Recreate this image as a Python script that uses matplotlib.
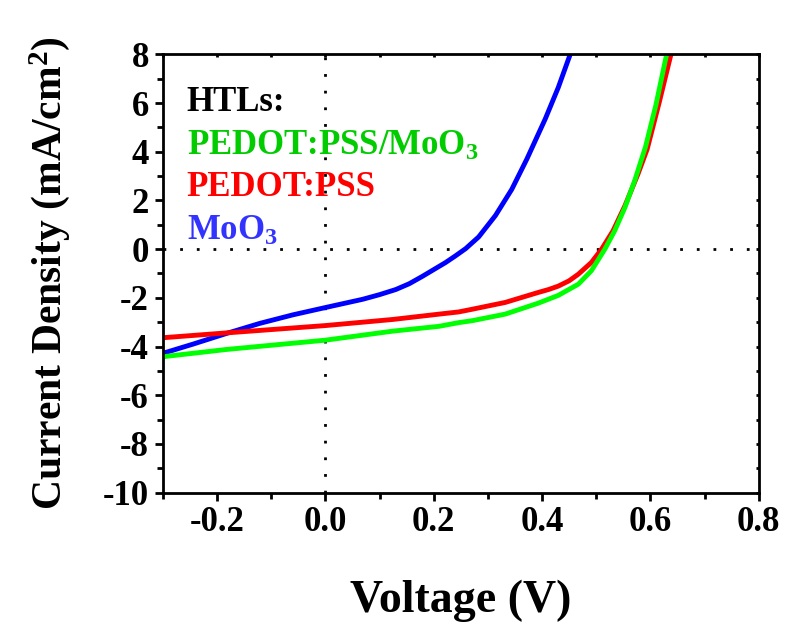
import matplotlib
matplotlib.use("Agg")
import matplotlib.pyplot as plt
from matplotlib.ticker import MultipleLocator

plt.rcParams['font.family'] = ['Liberation Serif', 'DejaVu Serif']
plt.rcParams['font.weight'] = 'bold'
plt.rcParams['mathtext.fontset'] = 'custom'
plt.rcParams['mathtext.rm'] = 'Liberation Serif:bold'
plt.rcParams['mathtext.it'] = 'Liberation Serif:bold'
plt.rcParams['mathtext.bf'] = 'Liberation Serif:bold'
plt.rcParams['axes.unicode_minus'] = False

# J-V curves
v_green = [-0.30, -0.182, 0.00, 0.124, 0.21, 0.246, 0.271, 0.332, 0.393, 0.43,
           0.467, 0.491, 0.516, 0.534, 0.553, 0.571, 0.591, 0.61, 0.63]
j_green = [-4.42, -4.12, -3.74, -3.37, -3.17, -3.02, -2.94, -2.67, -2.22, -1.90,
           -1.44, -0.89, 0.0, 0.75, 1.71, 2.81, 4.20, 5.90, 8.0]

v_red = [-0.30, -0.182, 0.00, 0.124, 0.21, 0.246, 0.271, 0.332, 0.393, 0.412, 0.43,
         0.45, 0.467, 0.491, 0.51, 0.531, 0.553, 0.577, 0.594, 0.616, 0.638]
j_red = [-3.64, -3.44, -3.14, -2.89, -2.67, -2.58, -2.47, -2.19, -1.78, -1.66, -1.52,
         -1.30, -1.03, -0.55, 0.0, 0.75, 1.78, 3.08, 4.10, 6.00, 8.0]

v_blue = [-0.30, -0.244, -0.182, -0.121, -0.06, 0.00, 0.069, 0.10, 0.13, 0.155, 0.179,
          0.222, 0.24, 0.259, 0.283, 0.314, 0.344, 0.372, 0.406, 0.43, 0.452]
j_blue = [-4.28, -3.90, -3.46, -3.05, -2.70, -2.40, -2.06, -1.87, -1.66, -1.42, -1.12,
          -0.55, -0.28, 0.02, 0.50, 1.38, 2.45, 3.70, 5.35, 6.64, 8.0]

fig = plt.figure(figsize=(7.92, 6.28), dpi=100)
ax = fig.add_axes([0.2056, 0.2156, 0.7524, 0.6979])

ax.axhline(0, color='black', ls=(0, (1, 5)), lw=2)
ax.axvline(0, color='black', ls=(0, (1, 5)), lw=2)

ax.plot(v_blue, j_blue, color='#0000ff', lw=3.5, solid_capstyle='butt', solid_joinstyle='round')
ax.plot(v_red, j_red, color='#ff0000', lw=3.5, solid_capstyle='butt', solid_joinstyle='round')
ax.plot(v_green, j_green, color='#00ff00', lw=3.5, solid_capstyle='butt', solid_joinstyle='round')

ax.set_xlim(-0.3, 0.8)
ax.set_ylim(-10, 8)
ax.xaxis.set_minor_locator(MultipleLocator(0.1))
ax.yaxis.set_major_locator(MultipleLocator(2))
ax.yaxis.set_minor_locator(MultipleLocator(1))
ax.set_xticks([-0.2, 0.0, 0.2, 0.4, 0.6, 0.8])
ax.set_xticklabels(['-0.2', '0.0', '0.2', '0.4', '0.6', '0.8'])
ax.tick_params(which='major', direction='out', length=6, width=2, labelsize=25, pad=4)
ax.tick_params(which='minor', direction='out', length=4, width=2)
ax.tick_params(which='both', top=True, right=True)
for s in ax.spines.values():
    s.set_linewidth(2)
# short inward ticks on top and right spines
for t in ax.xaxis.get_major_ticks() + ax.xaxis.get_minor_ticks():
    t.tick2line.set_marker(3)
    t.tick2line.set_markersize(2)
for t in ax.yaxis.get_major_ticks() + ax.yaxis.get_minor_ticks():
    t.tick2line.set_marker(0)
    t.tick2line.set_markersize(2)

ax.set_xlabel('Voltage (V)', fontsize=33, fontweight='bold', labelpad=29)
ax.set_ylabel('Current Density (mA/cm$^2$)', fontsize=30, fontweight='bold', labelpad=22)

ax.text(0.04, 0.89, 'HTLs:', transform=ax.transAxes, fontsize=25, color='black', va='center')
ax.text(0.04, 0.79, 'PEDOT:PSS/MoO$_3$', transform=ax.transAxes, fontsize=25, color='#00cc00', va='center')
ax.text(0.04, 0.695, 'PEDOT:PSS', transform=ax.transAxes, fontsize=25, color='#ff0000', va='center')
ax.text(0.04, 0.595, 'MoO$_3$', transform=ax.transAxes, fontsize=25, color='#3333ff', va='center')

fig.savefig('out.png', dpi=100)
